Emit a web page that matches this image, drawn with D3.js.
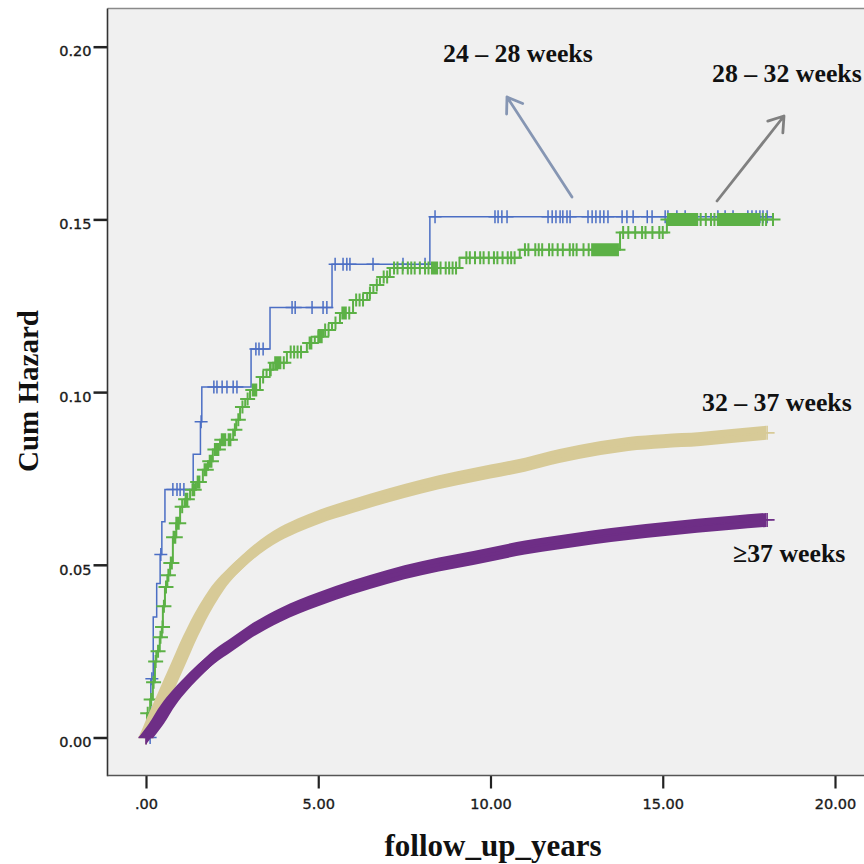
<!DOCTYPE html>
<html><head><meta charset="utf-8">
<script src="https://cdn.jsdelivr.net/npm/d3@7"></script>
<style>body{margin:0;background:#fff}svg{display:block}</style>
</head><body><svg id="c" width="864" height="864"></svg>
<script>
// ---------- data ----------
const xTicks = [0, 5, 10, 15, 20];
const xTickLabels = [".00", "5.00", "10.00", "15.00", "20.00"];
const yTicks = [0, 0.05, 0.10, 0.15, 0.20];
const yTickLabels = ["0.00", "0.05", "0.10", "0.15", "0.20"];
const groups = ["24 \u2013 28 weeks", "28 \u2013 32 weeks", "32 \u2013 37 weeks", "\u226537 weeks"];
const xTitle = "follow_up_years";
const yTitle = "Cum Hazard";

// 24-28 weeks: step function [time, cum hazard]
const blueSteps = [[0,0],[0.14,0.0170],[0.21,0.0349],[0.31,0.0446],[0.41,0.0530],[0.46,0.0625],[0.55,0.0718],
  [1.37,0.0820],[1.58,0.0914],[1.62,0.1015],[3.05,0.1125],[3.60,0.1245],[5.40,0.1370],[8.24,0.1508]];
const blueCensor = [0.12,0.17,0.43,1.60,0.78,0.90,0.99,1.10,1.97,2.06,2.21,2.35,2.53,2.64,3.19,3.28,3.40,
  4.24,4.33,4.82,5.14,5.25,5.49,5.72,5.83,5.92,6.59,7.46,8.10,8.39,10.13,10.22,10.33,10.48,11.67,11.79,11.90,
  12.02,12.10,12.22,12.31,12.83,12.95,13.06,13.18,13.29,13.41,13.82,13.96,14.14,14.55,14.69,15.07,15.15,15.41,
  15.65,16.60,16.81,17.04,17.47,17.59,17.71,17.82,17.91,18.03];

// 28-32 weeks
const greenSteps = [[0,0],[0.03,0.007],[0.12,0.011],[0.20,0.016],[0.26,0.022],[0.30,0.025],[0.40,0.029],[0.46,0.032],
  [0.49,0.038],[0.55,0.0436],[0.62,0.047],[0.70,0.0505],[0.78,0.058],[0.88,0.062],[0.99,0.0668],[1.12,0.069],
  [1.28,0.0717],[1.45,0.074],[1.65,0.0775],[1.80,0.080],[1.94,0.0834],[2.15,0.0862],[2.53,0.0891],[2.62,0.092],
  [2.73,0.0957],[2.88,0.098],[3.02,0.1006],[3.31,0.1044],[3.50,0.1065],[3.69,0.1085],[4.09,0.1116],[4.67,0.1142],
  [4.90,0.116],[5.14,0.118],[5.40,0.120],[5.63,0.1229],[6.01,0.1267],[6.42,0.1287],[6.60,0.131],[6.79,0.1333],
  [7.08,0.1359],[9.10,0.1389],[10.85,0.1412],[13.76,0.1462],[15.12,0.150]];
const greenCensor = [0.05,0.15,0.22,0.28,0.35,0.42,0.48,0.52,0.58,0.65,0.72,0.75,0.8,0.82,0.85,0.88,0.92,0.95,1.05,1.15,1.2,
  1.35,1.4,1.5,1.55,1.7,1.75,1.85,1.9,2.0,2.05,2.1,2.2,2.25,2.3,2.4,2.45,2.58,2.68,2.8,2.95,3.1,3.15,3.2,3.4,3.6,3.62,3.75,
  3.8,3.85,3.9,4.0,4.2,4.3,4.4,4.5,4.75,4.8,5.0,5.05,5.1,5.2,5.3,5.5,5.7,5.75,5.8,5.9,6.1,6.2,6.3,6.5,6.7,6.9,7.0,
  7.2,7.3,7.45,7.6,7.7,7.8,7.95,8.1,8.2,8.3,8.35,8.4,8.45,8.55,8.7,8.8,8.9,9.0,9.3,9.4,9.55,9.7,9.8,9.95,10.1,10.2,
  10.35,10.5,10.6,10.7,11.0,11.1,11.3,11.4,11.5,11.7,11.8,11.95,12.1,12.3,12.4,12.5,12.7,12.85,12.95,13.0,13.05,13.1,13.15,
  13.2,13.25,13.3,13.35,13.4,13.45,13.5,13.55,13.6,13.65,13.7,13.85,14.0,14.2,14.4,14.5,14.7,14.9,15.0,15.15,15.2,15.25,15.3,15.35,15.4,
  15.45,15.5,15.55,15.6,15.65,15.7,15.75,15.8,15.85,15.9,15.95,16.0,16.1,16.25,16.4,16.5,16.6,16.65,16.7,16.75,16.8,16.85,16.9,16.95,
  17.0,17.05,17.1,17.15,17.2,17.25,17.3,17.35,17.4,17.45,17.5,17.55,17.6,17.65,17.7,17.75,17.8,17.9,18.0,18.2];

// 32-37 weeks (dense censoring -> band)
const tanCurve = [[0,0],[0.15,0.0035],[0.5,0.0115],[1.0,0.0228],[1.3,0.0295],[1.6,0.0355],[1.9,0.0405],[2.2,0.0448],
  [2.6,0.0490],[3.0,0.0527],[3.5,0.0565],[3.9,0.059],[4.4,0.0614],[5.0,0.0638],[6.0,0.067],[7.0,0.070],[8.0,0.0727],
  [9.0,0.075],[10.0,0.077],[11.0,0.079],[12.0,0.0815],[13.2,0.0838],[14.0,0.085],[15.0,0.0858],[16.1,0.0864],
  [17.0,0.0873],[18.0,0.0882]];
// >=37 weeks
const purpleCurve = [[0,0],[0.3,0.004],[0.65,0.0095],[1.0,0.0138],[1.5,0.019],[2.0,0.0235],[2.5,0.027],[3.0,0.0305],
  [3.9,0.0355],[5.0,0.040],[6.0,0.0435],[7.0,0.0465],[8.0,0.049],[9.0,0.051],[10.0,0.053],[11.0,0.055],[12.0,0.0565],
  [13.0,0.058],[14.0,0.0592],[15.0,0.0603],[16.0,0.0613],[17.0,0.0622],[18.0,0.063]];
const endTime = 18.2;

// ---------- drawing ----------
const svg = d3.select("#c");
const x = d3.scaleLinear().domain([0, 20]).range([146, 835]);
const y = d3.scaleLinear().domain([0, 0.2]).range([737.5, 46.7]);
const L = 107.5, T = 8.5, B = 775.5, R = 900;

svg.append("rect").attr("x", 0).attr("y", 0).attr("width", 864).attr("height", 864).attr("fill", "#fff");
svg.append("rect").attr("x", L).attr("y", T).attr("width", R - L).attr("height", B - T).attr("fill", "#f0f0f0");
svg.append("line").attr("x1", L).attr("x2", R).attr("y1", T).attr("y2", T).attr("stroke", "#8a8a8a").attr("stroke-width", 1.6);

const colors = { blue: "#4b6ec4", green: "#5cb146", tan: "#d7ca97", purple: "#6e2e86" };

function stepVal(steps, t) {
  const i = d3.bisector(d => d[0]).right(steps, t) - 1;
  return steps[Math.max(0, i)][1];
}
function plus(cx, cy, sx, sy) { return `M${cx - sx},${cy}h${2 * sx}M${cx},${cy - sy}v${2 * sy}`; }

const stepLine = d3.line().x(d => x(d[0])).y(d => y(d[1])).curve(d3.curveStepAfter);
const plotG = svg.append("g");

function drawStep(steps, censor, color, lw, mw, sx, sy) {
  const pts = steps.concat([[endTime, steps[steps.length - 1][1]]]);
  plotG.append("path").attr("d", stepLine(pts)).attr("fill", "none").attr("stroke", color).attr("stroke-width", lw);
  plotG.append("path").attr("d", censor.map(t => plus(x(t), y(stepVal(steps, t)), sx, sy)).join(""))
    .attr("fill", "none").attr("stroke", color).attr("stroke-width", mw);
}
drawStep(blueSteps, blueCensor, colors.blue, 1.5, 1.5, 6.5, 6.5);
drawStep(greenSteps, greenCensor, colors.green, 2, 2, 7.5, 6.5);

function drawBand(curve, color) {
  const hv = 7, hh = 7.5;
  const aV = d3.area().x(d => x(d[0])).y0(d => y(d[1]) - hv).y1(d => y(d[1]) + hv).curve(d3.curveMonotoneX);
  const aH = d3.area().y(d => y(d[1])).x0(d => x(d[0]) - hh).x1(d => x(d[0]) + hh).curve(d3.curveCatmullRom);
  plotG.append("path").attr("d", aV(curve)).attr("fill", color);
  plotG.append("path").attr("d", aH(curve)).attr("fill", color);
  const f = curve[0], l = curve[curve.length - 1];
  plotG.append("path").attr("d", plus(x(f[0]), y(f[1]), hh, hv) + plus(x(l[0]) + 1, y(l[1]), hh, hv))
    .attr("stroke", color).attr("stroke-width", 1.6).attr("fill", "none");
}
drawBand(tanCurve, colors.tan);
drawBand(purpleCurve, colors.purple);

// axes
const yAxis = d3.axisLeft(y).tickValues(yTicks).tickFormat((d, i) => yTickLabels[i]).tickSize(14).tickPadding(2);
const gy = svg.append("g").attr("transform", `translate(${L},0)`).call(yAxis);
gy.select(".domain").remove();
gy.selectAll("line").attr("stroke", "#222").attr("stroke-width", 2.5);
gy.selectAll("text").attr("dy", "0.64em").attr("font-family", "DejaVu Sans").attr("font-size", 14.5)
  .attr("fill", "#1a1a1a").attr("stroke", "#1a1a1a").attr("stroke-width", 0.35);

const xAxis = d3.axisBottom(x).tickValues(xTicks).tickFormat((d, i) => xTickLabels[i]).tickSize(13).tickPadding(10);
const gx = svg.append("g").attr("transform", `translate(0,${B})`).call(xAxis);
gx.select(".domain").remove();
gx.selectAll("line").attr("stroke", "#222").attr("stroke-width", 2.2);
gx.selectAll("text").attr("font-family", "DejaVu Sans").attr("font-size", 14.5)
  .attr("fill", "#1a1a1a").attr("stroke", "#1a1a1a").attr("stroke-width", 0.35);

svg.append("line").attr("x1", L).attr("x2", L).attr("y1", T).attr("y2", B + 0.8).attr("stroke", "#333").attr("stroke-width", 1.6);
svg.append("line").attr("x1", L).attr("x2", R).attr("y1", B).attr("y2", B).attr("stroke", "#555").attr("stroke-width", 1.6);

// titles
svg.append("text").attr("transform", "translate(38,391) rotate(-90)").attr("text-anchor", "middle")
  .attr("font-family", "Liberation Serif").attr("font-weight", "bold").attr("font-size", 29).attr("fill", "#111").text(yTitle);
svg.append("text").attr("x", 493).attr("y", 856).attr("text-anchor", "middle")
  .attr("font-family", "Liberation Serif").attr("font-weight", "bold").attr("font-size", 31).attr("fill", "#111").text(xTitle);

// annotations
const ann = [[443, 62], [712, 82], [702, 411], [733, 562]];
groups.forEach((g, i) => {
  svg.append("text").attr("x", ann[i][0]).attr("y", ann[i][1]).attr("font-family", "Liberation Serif")
    .attr("font-weight", "bold").attr("font-size", 25.8).attr("fill", "#111").text(g);
});
function arrow(x1, y1, x2, y2, color) {
  const a = Math.atan2(y2 - y1, x2 - x1), len = 17, sp = 0.6;
  const p1 = [x2 - len * Math.cos(a - sp), y2 - len * Math.sin(a - sp)];
  const p2 = [x2 - len * Math.cos(a + sp), y2 - len * Math.sin(a + sp)];
  svg.append("path").attr("d", `M${x1},${y1}L${x2},${y2}M${p1[0]},${p1[1]}L${x2},${y2}L${p2[0]},${p2[1]}`)
    .attr("fill", "none").attr("stroke", color).attr("stroke-width", 2.8).attr("stroke-linecap", "round").attr("stroke-linejoin", "round");
}
arrow(572, 197, 507, 97, "#8696b3");
arrow(717, 201, 784, 116, "#808080");
</script></body></html>
